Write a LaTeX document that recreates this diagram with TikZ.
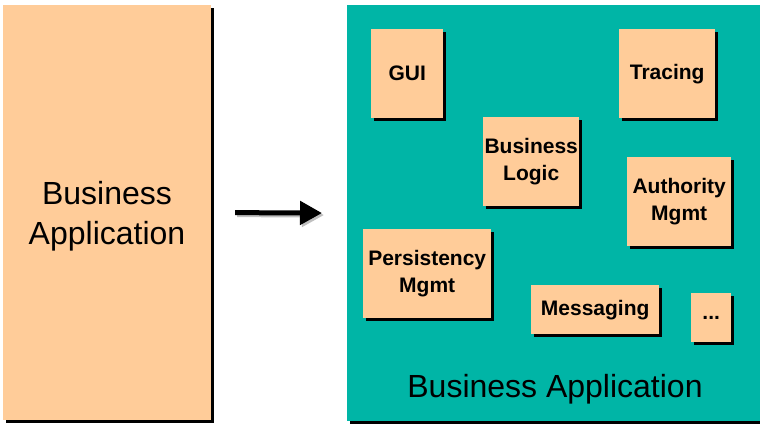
\documentclass[tikz,border=0pt]{standalone}
\usepackage{fontspec}
\setmainfont{Liberation Sans}
\usetikzlibrary{positioning,shadows,arrows.meta}
\definecolor{peach}{RGB}{255,204,153}
\definecolor{tealbg}{RGB}{0,181,166}

\begin{document}
\begin{tikzpicture}[x=1pt,y=-1pt,
    appbox/.style={rectangle, fill=peach, inner sep=0pt, align=center,
        drop shadow={shadow xshift=2.5pt, shadow yshift=-2.5pt, opacity=1, fill=black}},
    modbox/.style={appbox, anchor=north west, font=\bfseries\fontsize{21}{27}\selectfont},
    bigtext/.style={align=center, font=\fontsize{32}{40}\selectfont},
    arrow/.style={-{Triangle[length=22pt,width=23pt]}, line width=5pt, shorten <=24pt, shorten >=25pt}
]
    \useasboundingbox (0,0) rectangle (760,423);

    % monolithic application
    \node[appbox, minimum width=208pt, minimum height=415pt] (app) at (107,212.5) {};
    \node[bigtext] (applabel) at (107,216) {Business\\Application};

    % application split into modules
    \node[rectangle, fill=tealbg, anchor=north west, minimum width=418pt, minimum height=416pt,
        drop shadow={shadow xshift=2.5pt, shadow yshift=-2.5pt, opacity=1, fill=black}] (comp) at (347,5) {};
    \node[bigtext] (complabel) at (555,389) {Business Application};

    \node[modbox, minimum width=72pt, minimum height=89pt] (gui) at (371,29) {GUI};
    \node[modbox, minimum width=96pt, minimum height=89pt] (tracing) at (619,29) {Tracing};
    \node[modbox, minimum width=96pt, minimum height=89pt] (logic) at (483,117) {Business\\Logic};
    \node[modbox, minimum width=104pt, minimum height=89pt] (auth) at (627,157) {Authority\\Mgmt};
    \node[modbox, minimum width=128pt, minimum height=89pt] (persist) at (363,229) {Persistency\\Mgmt};
    \node[modbox, minimum width=128pt, minimum height=49pt] (msg) at (531,285) {Messaging};
    \node[modbox, minimum width=40pt, minimum height=49pt] (more) at (691,293) {...};

    % arrow with its shadow
    \draw[arrow, black!25, transform canvas={xshift=2pt, yshift=-2pt}] (app.east) -- (comp.west);
    \draw[arrow] (app.east) -- (comp.west);
\end{tikzpicture}
\end{document}
